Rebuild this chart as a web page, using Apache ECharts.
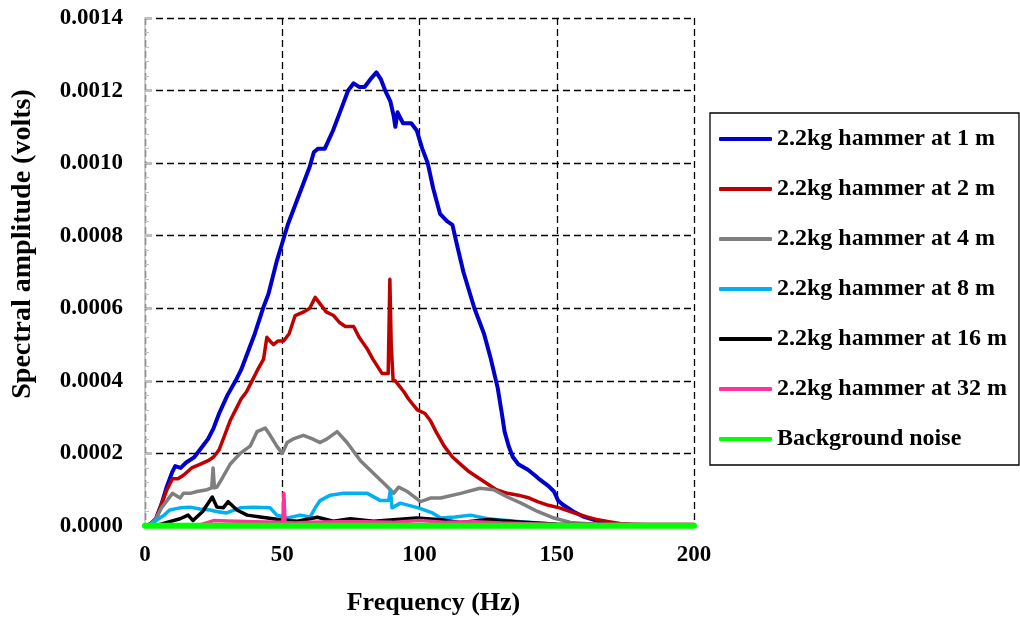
<!DOCTYPE html>
<html>
<head>
<meta charset="utf-8">
<script src="https://cdn.jsdelivr.net/npm/echarts@6/dist/echarts.min.js"></script>
<style>
html,body{margin:0;padding:0;background:#fff;}
#chart{width:1020px;height:624px;}
</style>
</head>
<body>
<div id="chart"></div>
<script>
// ---- data (frequency in Hz, amplitude in volts) ----
const seriesNames = ["2.2kg hammer at 1 m","2.2kg hammer at 2 m","2.2kg hammer at 4 m","2.2kg hammer at 8 m","2.2kg hammer at 16 m","2.2kg hammer at 32 m","Background noise"];

const f1m = [0,2,4,6,8,10,11,13,15,18,20,23,25,27,30,33,35,38,40,43,45,48,50,52,54,56,58,60,61.5,63,65.5,68.5,71,74,76,78,80,82,84.3,86,87.5,89.4,90.6,91.2,92,94,97,99,101,103,105,107.5,110,112,113.5,116,120,123.5,126,128.5,130,131,132.5,134,136,139.5,142,144,147,149,150.5,152,156,160,163.5,167,171,180,200];
const v1m = [0,0.000005,0.00002,0.00006,0.00011,0.00015,0.000165,0.00016,0.000175,0.00019,0.00021,0.00024,0.00027,0.00031,0.00036,0.0004,0.00043,0.00049,0.00053,0.0006,0.00064,0.00073,0.00078,0.00083,0.00087,0.00091,0.00095,0.00099,0.00103,0.00104,0.00104,0.00109,0.00114,0.0012,0.00122,0.00121,0.00121,0.00123,0.00125,0.00123,0.0012,0.00117,0.00113,0.0011,0.00114,0.00111,0.00111,0.00109,0.00104,0.001,0.00093,0.00086,0.00084,0.00083,0.00078,0.0007,0.0006,0.00053,0.00046,0.00038,0.00031,0.00026,0.00022,0.00019,0.00017,0.000155,0.00014,0.000127,0.00011,0.000095,0.00007,0.00006,0.00004,0.000025,0.000017,0.00001,0.000005,0.000003,0.000003];

const f2m = [0,2,4,6,8,10,12,14,17,20,23,25,27,29,31,33,35,37,39,41,43.2,44.4,45.5,46.8,48.5,50.5,52.5,54.7,57.8,60,62,64,66,68.7,71,73,76,78,80.8,83,86.4,88.6,89.2,89.7,90.4,91.2,94.3,96,99.2,102,104,106,109,112,115,118,120,124,128,132,136,140,143,147,151,156,161,165,169,173,177,185,200];
const v2m = [0,0.000005,0.00002,0.00006,0.0001,0.00013,0.00013,0.00014,0.00016,0.00017,0.00018,0.00019,0.00021,0.00025,0.00029,0.00032,0.00035,0.00037,0.0004,0.00043,0.00046,0.00052,0.00051,0.0005,0.00051,0.00051,0.00053,0.00058,0.00059,0.0006,0.00063,0.00061,0.00059,0.00058,0.00056,0.00055,0.00055,0.00052,0.00049,0.00046,0.00042,0.00042,0.00068,0.0005,0.0004,0.0004,0.00037,0.00035,0.00032,0.00031,0.00029,0.00026,0.00022,0.00019,0.00017,0.00015,0.00014,0.00012,0.0001,0.00009,0.000085,0.000077,0.000067,0.000057,0.00005,0.000037,0.000025,0.000017,0.000012,0.000007,0.000005,0.000003,0.000003];

const f4m = [0,2,4,6,8,10,12.8,14,16.4,19,22.6,24.3,24.8,25.3,26.2,28,31,34.7,38.3,40.8,43.8,45.6,48,50,51.8,54,57.7,61,63.8,66.3,70,73.6,78.5,83.3,88.3,90.6,92.4,95.6,100.4,104,107.7,115,122,127,132,137,143,149,155,165,200];
const v4m = [0,0.000005,0.00002,0.00005,0.00007,0.00009,0.000077,0.00009,0.00009,0.000095,0.0001,0.000105,0.00016,0.000105,0.000107,0.00013,0.00017,0.0002,0.00022,0.00026,0.00027,0.00025,0.00022,0.0002,0.00023,0.00024,0.00025,0.00024,0.00023,0.00024,0.00026,0.00023,0.00018,0.000145,0.000108,0.00009,0.000107,0.000095,0.000067,0.000077,0.000077,0.00009,0.000104,0.0001,0.00008,0.000063,0.00004,0.000022,0.00001,0.000004,0.000003];

const f8m = [0,2,4.4,7,9,12.8,16.4,20,23.7,26,29.7,34.7,39.4,45.6,48,51.8,56.6,60.2,62,63.8,67.5,72.3,81,85.8,88.8,89.4,90,93,99.6,104.7,107.7,113,118.6,124.8,137,150,165,200];
const v8m = [0,0.000003,0.000017,0.00003,0.000044,0.00005,0.000052,0.000047,0.000044,0.00004,0.000036,0.00005,0.000052,0.00005,0.00003,0.000022,0.00003,0.000025,0.00005,0.00007,0.000085,0.00009,0.00009,0.00007,0.00007,0.0001,0.00005,0.000063,0.00005,0.000036,0.000022,0.000025,0.00003,0.00002,0.000012,0.000005,0.000003,0.000003];

const f16m = [0,5,8,12.8,15.7,17.5,21,24.5,26.2,28.5,30.3,33.5,37.2,42,49.3,55.5,62.8,68.6,74.8,83.3,99,107.7,115,125,135,150,200];
const v16m = [0,0.000003,0.00001,0.00002,0.00003,0.000015,0.00004,0.00008,0.000052,0.00005,0.000067,0.000044,0.00003,0.000025,0.000017,0.000013,0.000024,0.000013,0.00002,0.000013,0.000022,0.000017,0.00001,0.000018,0.000012,0.000005,0.000003];

const f32m = [0,20,25,30,40,48,50.2,50.6,51,55,60,70,80,90,100,110,120,130,150,170,200];
const v32m = [0,0.000003,0.000015,0.000014,0.000012,0.00001,0.00001,0.00009,0.00001,0.000008,0.00001,0.000012,0.000012,0.00001,0.000015,0.00001,0.000012,0.000008,0.000004,0.000005,0.000005];

const fNoise = [0,50,100,150,200];
const vNoise = [0.000001,0.000001,0.000001,0.000001,0.000001];

const xTicks = [0,50,100,150,200];
const yTicks = [0,0.0002,0.0004,0.0006,0.0008,0.0010,0.0012,0.0014];

// ---- build ----
const freqs = [f1m,f2m,f4m,f8m,f16m,f32m,fNoise];
const vals  = [v1m,v2m,v4m,v8m,v16m,v32m,vNoise];
const colors = ["#0000CC","#C00000","#7F7F7F","#00B0F0","#000000","#FF3399","#00FF00"];
const widths = [4,3.5,3.5,3.5,3.5,3.5,6];
const FONT = "'Liberation Serif','Times New Roman',serif";

const series = seriesNames.map((n,i)=>({
  name:n, type:'line', symbol:'none', showSymbol:false, smooth:false,
  data: freqs[i].map((f,j)=>[f, vals[i][j]]),
  lineStyle:{color:colors[i], width:widths[i], cap:'round', join:'round'},
  itemStyle:{color:colors[i]},
  z: 2+i
}));

const chart = echarts.init(document.getElementById('chart'), null, {renderer:'canvas'});
chart.setOption({
  animation:false,
  backgroundColor:'#fff',
  grid:{left:145, right:326, top:18, bottom:98},
  xAxis:{
    type:'value', min:xTicks[0], max:xTicks[xTicks.length-1], interval:50,
    name:'Frequency (Hz)', nameLocation:'middle', nameGap:64,
    nameTextStyle:{fontFamily:FONT, fontWeight:'bold', fontSize:26, color:'#000', padding:[0,0,0,28]},
    axisLine:{show:true, lineStyle:{color:'#BFBFBF', width:1}},
    axisTick:{show:false},
    axisLabel:{fontFamily:FONT, fontWeight:'bold', fontSize:23, color:'#000', margin:18},
    splitLine:{show:true, lineStyle:{color:'#000', width:1.3, type:[7,4]}}
  },
  yAxis:{
    type:'value', min:yTicks[0], max:yTicks[yTicks.length-1], interval:0.0002,
    name:'Spectral amplitude (volts)', nameLocation:'middle', nameGap:108,
    nameTextStyle:{fontFamily:FONT, fontWeight:'bold', fontSize:28, color:'#000', padding:[0,0,0,56]},
    axisLine:{show:true, lineStyle:{color:'#BFBFBF', width:1.5}},
    axisTick:{show:true, inside:true, length:7, lineStyle:{color:'#BFBFBF'}},
    minorTick:{show:true, splitNumber:5, length:4, lineStyle:{color:'#BFBFBF'}},
    axisLabel:{fontFamily:FONT, fontWeight:'bold', fontSize:23, color:'#000', margin:22,
      formatter:v=>v.toFixed(4)},
    splitLine:{show:true, lineStyle:{color:'#000', width:1.3, type:[7,4]}}
  },
  legend:{
    orient:'vertical', left:710, top:113,
    data:seriesNames,
    icon:'roundRect',
    itemWidth:53, itemHeight:4, itemGap:26,
    padding:[14,12,14,9],
    borderColor:'#000', borderWidth:1.3,
    textStyle:{fontFamily:FONT, fontWeight:'bold', fontSize:24, color:'#000'}
  },
  series:series
});
</script>
</body>
</html>
